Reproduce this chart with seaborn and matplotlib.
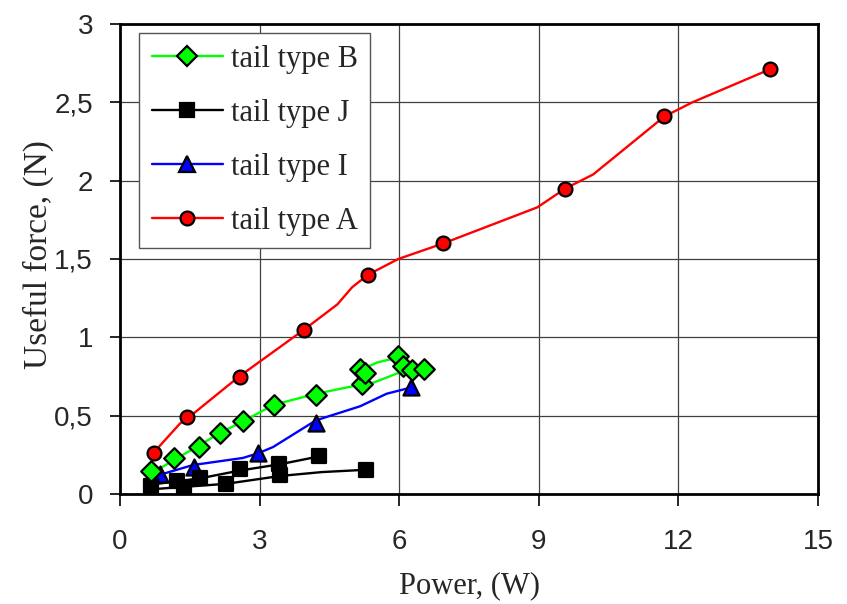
import numpy as np
import pandas as pd
import matplotlib
matplotlib.use("Agg")
import matplotlib.pyplot as plt
from matplotlib.lines import Line2D
from matplotlib.ticker import FuncFormatter, MultipleLocator
import seaborn as sns

# measured points (markers)
a_power = [0.72, 1.44, 2.57, 3.96, 5.34, 6.95, 9.57, 11.70, 13.96]
a_force = [0.26, 0.49, 0.75, 1.05, 1.40, 1.60, 1.95, 2.41, 2.71]

b_power = [0.66, 1.15, 1.69, 2.14, 2.65, 3.31, 4.21, 5.21, 5.15, 5.27, 5.98, 6.09, 6.27, 6.54]
b_force = [0.15, 0.23, 0.30, 0.39, 0.465, 0.565, 0.635, 0.70, 0.80, 0.775, 0.88, 0.815, 0.79, 0.80]

j_power = [0.67, 1.22, 1.38, 1.72, 2.28, 2.57, 3.41, 3.44, 4.28, 5.29]
j_force = [0.05, 0.08, 0.04, 0.10, 0.065, 0.16, 0.19, 0.12, 0.245, 0.155]

i_power = [0.70, 0.86, 1.58, 2.97, 4.21, 6.26]
i_force = [0.14, 0.13, 0.17, 0.26, 0.455, 0.68]

# trend lines
a_line_x = [0.71, 1.29, 1.44, 2.56, 3.96, 4.67, 4.99, 5.33, 5.98, 6.95, 8.97, 9.57, 10.17, 11.70, 12.30, 13.96]
a_line_y = [0.26, 0.45, 0.48, 0.75, 1.05, 1.21, 1.32, 1.40, 1.50, 1.60, 1.83, 1.95, 2.04, 2.41, 2.50, 2.71]

b_line_x = [0.67, 1.12, 1.70, 2.15, 2.65, 3.31, 4.22, 5.20, 5.44, 5.96, 6.24]
b_line_y = [0.13, 0.21, 0.31, 0.39, 0.465, 0.57, 0.64, 0.70, 0.71, 0.77, 0.78]
b_line2_x = [5.23, 5.53, 5.96]
b_line2_y = [0.80, 0.84, 0.87]

j_line_x = [0.67, 1.72, 2.58, 3.44, 4.28]
j_line_y = [0.06, 0.10, 0.15, 0.19, 0.24]
j_line2_x = [0.67, 2.28, 3.44, 4.34, 5.31]
j_line2_y = [0.03, 0.065, 0.115, 0.14, 0.155]

i_line_x = [0.71, 1.57, 2.64, 2.97, 3.29, 4.21, 5.16, 5.73, 6.26]
i_line_y = [0.11, 0.185, 0.23, 0.26, 0.30, 0.47, 0.56, 0.64, 0.68]

series = [
    # label, color, marker, marker size, points, lines
    ("tail type B", "#00FF00", "D", 10, (b_power, b_force), [(b_line_x, b_line_y), (b_line2_x, b_line2_y)]),
    ("tail type J", "black", "s", 10, (j_power, j_force), [(j_line_x, j_line_y), (j_line2_x, j_line2_y)]),
    ("tail type I", "#0000FF", "^", 11, (i_power, i_force), [(i_line_x, i_line_y)]),
    ("tail type A", "#FF0000", "o", 9.5, (a_power, a_force), [(a_line_x, a_line_y)]),
]

SERIF = ["Liberation Serif", "DejaVu Serif"]

sns.set_style("white")
plt.rcParams["font.family"] = ["Liberation Sans", "DejaVu Sans"]

fig = plt.figure(figsize=(8.47, 6.04), dpi=100)
ax = fig.add_axes([120 / 847, 1 - 494 / 604, 698 / 847, 470 / 604])

ax.grid(True, color="#404040", linewidth=0.9)
ax.set_axisbelow(True)

# lines first, markers on top
for label, color, marker, ms, pts, lines in reversed(series):
    for lx, ly in lines:
        df = pd.DataFrame({"x": lx, "y": ly})
        sns.lineplot(data=df, x="x", y="y", sort=False, color=color,
                     linewidth=1.7, ax=ax, legend=False, zorder=2)
for label, color, marker, ms, pts, lines in reversed(series):
    df = pd.DataFrame({"x": pts[0], "y": pts[1]})
    sns.scatterplot(data=df, x="x", y="y", marker=marker, color=color,
                    s=ms ** 2 * 1.1, edgecolor="black", linewidth=1.6,
                    ax=ax, legend=False, zorder=3)

ax.set_xlim(0, 15)
ax.set_ylim(0, 3)
ax.xaxis.set_major_locator(MultipleLocator(3))
ax.yaxis.set_major_locator(MultipleLocator(0.5))
ax.yaxis.set_major_formatter(FuncFormatter(lambda v, p: f"{v:g}".replace(".", ",")))
ax.tick_params(axis="both", direction="out", width=1.2, color="black",
               labelsize=20, left=True, bottom=True)
ax.tick_params(axis="x", length=8.5, pad=17)
ax.tick_params(axis="y", length=7.5, pad=12)

for side in ["left", "bottom", "top", "right"]:
    ax.spines[side].set_visible(True)
    ax.spines[side].set_color("black")
    ax.spines[side].set_linewidth(2.0)

ax.set_xlabel("Power, (W)", family=SERIF, fontsize=22)
ax.set_ylabel("Useful force, (N)", family=SERIF, fontsize=24)
ax.xaxis.set_label_coords(0.5, -0.165)
ax.yaxis.set_label_coords(-0.095, 0.51)

handles = [
    Line2D([0], [0], color=color, linewidth=1.7, marker=marker, markersize=ms * 1.05,
           markerfacecolor=color, markeredgecolor="black", markeredgewidth=1.6)
    for label, color, marker, ms, pts, lines in series
]
labels = [s[0] for s in series]
leg = ax.legend(handles, labels, loc="upper left", bbox_to_anchor=(0.0277, 0.9815),
                borderaxespad=0, frameon=True, fancybox=False, framealpha=1,
                edgecolor="#555555", handlelength=2.35, labelspacing=0.82,
                handletextpad=0.25, borderpad=0.4,
                prop={"family": SERIF, "size": 22})
leg.get_frame().set_linewidth(1.0)

fig.savefig("out.png", dpi=100)
